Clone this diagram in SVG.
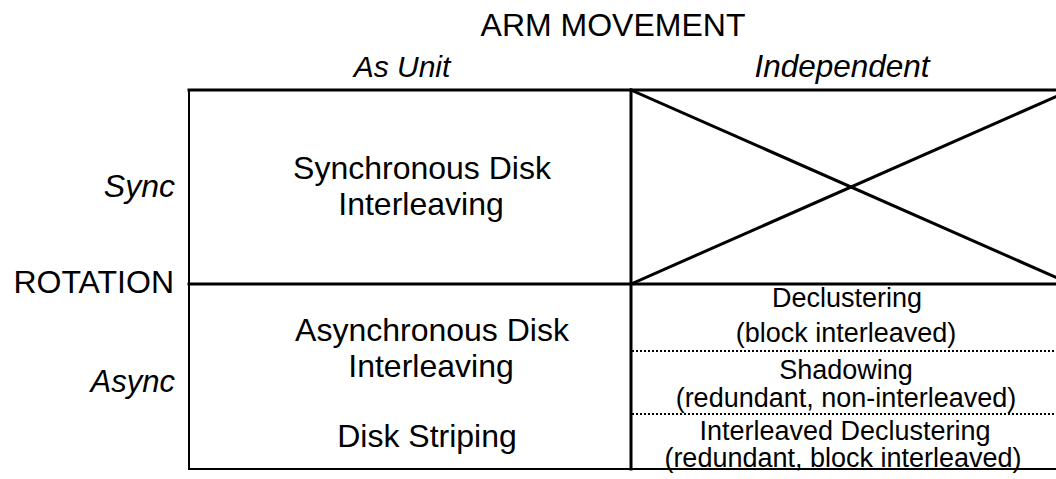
<svg xmlns="http://www.w3.org/2000/svg" width="1056" height="479" viewBox="0 0 1056 479">
  <style>
    text { font-family: "Liberation Sans", Arial, sans-serif; fill: #000; }
    .hdr { font-size: 32px; }
    .ital { font-size: 30px; font-style: italic; }
    .cell { font-size: 32px; text-anchor: middle; }
    .sub { font-size: 27px; text-anchor: middle; }
    .rule { stroke: #000; fill: none; stroke-linecap: square; }
    .thick { stroke-width: 3; }
    .thin { stroke-width: 2; }
    .dot { stroke: #000; stroke-width: 2; stroke-dasharray: 2 2; fill: none; }
  </style>
  <rect width="1056" height="479" fill="#fff"/>

  <!-- axis titles -->
  <g id="axis-arm">
    <text class="hdr" x="613" y="36" text-anchor="middle">ARM MOVEMENT</text>
  </g>
  <g id="col-as-unit">
    <text class="ital" x="402" y="77" text-anchor="middle">As Unit</text>
  </g>
  <g id="col-independent">
    <text class="ital" x="842" y="77" text-anchor="middle" style="font-size:31.5px">Independent</text>
  </g>
  <g id="axis-rotation">
    <text class="hdr" x="174" y="293" text-anchor="end">ROTATION</text>
  </g>
  <g id="row-sync">
    <text class="ital" x="175" y="197" text-anchor="end" style="font-size:32px">Sync</text>
  </g>
  <g id="row-async">
    <text class="ital" x="175" y="392" text-anchor="end" style="font-size:31px">Async</text>
  </g>

  <!-- grid lines -->
  <g id="connectors">
    <line class="rule thick" x1="189" y1="90" x2="1056" y2="90"/>
    <line class="rule thick" x1="189" y1="284" x2="1056" y2="284"/>
    <line class="rule thin" x1="189" y1="469" x2="1056" y2="469"/>
    <line class="rule thin" x1="189" y1="90" x2="189" y2="469"/>
    <line class="rule thick" x1="631" y1="90" x2="631" y2="469"/>
    <line class="dot" x1="632" y1="351" x2="1056" y2="351"/>
    <line class="dot" x1="632" y1="414" x2="1056" y2="414"/>
    <!-- crossed-out cell: sync rotation with independent arms -->
    <line class="rule thick" x1="631" y1="90" x2="1071" y2="284"/>
    <line class="rule thick" x1="631" y1="284" x2="1071" y2="90"/>
  </g>

  <g id="cell-sync-unit">
    <text class="cell" x="422" y="179">Synchronous Disk</text>
    <text class="cell" x="421" y="215">Interleaving</text>
  </g>
  <g id="cell-async-unit">
    <text class="cell" x="432" y="341">Asynchronous Disk</text>
    <text class="cell" x="431" y="377">Interleaving</text>
    <text class="cell" x="427" y="447">Disk Striping</text>
  </g>
  <g id="cell-declustering">
    <text class="sub" x="847" y="307">Declustering</text>
    <text class="sub" x="846" y="342">(block interleaved)</text>
  </g>
  <g id="cell-shadowing">
    <text class="sub" x="846" y="379">Shadowing</text>
    <text class="sub" x="846" y="407">(redundant, non-interleaved)</text>
  </g>
  <g id="cell-interleaved-declustering">
    <text class="sub" x="845" y="440">Interleaved Declustering</text>
    <text class="sub" x="843" y="467">(redundant, block interleaved)</text>
  </g>
</svg>
